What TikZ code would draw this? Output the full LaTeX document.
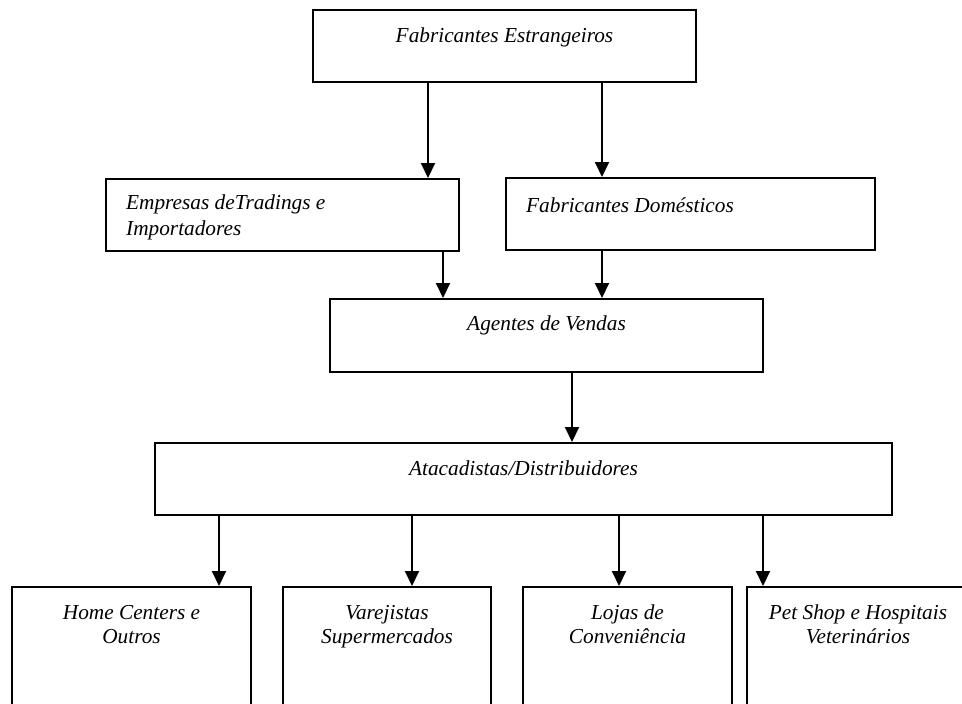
\documentclass[tikz,border=0pt]{standalone}
\usepackage{fontspec}
\setmainfont{Liberation Serif}
\usepackage{tikz}
\usetikzlibrary{arrows.meta}
\tikzset{>={Triangle[width=14pt,length=15pt]}}
\tikzset{
  caixa/.style={draw, line width=2pt, inner sep=0pt},
  rotulo/.style={font=\itshape\fontsize{21.3}{24}\selectfont, inner sep=0pt, align=center},
  seta/.style={line width=2pt, ->}
}

\begin{document}
\begin{tikzpicture}[x=1pt,y=-1pt]
    \useasboundingbox (0,0) rectangle (962,704);
    \clip (0,0) rectangle (962,704);

    % fornecedores
    \node[caixa, minimum width=383, minimum height=72,
      label={[rotulo, anchor=north, yshift=-19pt]north:Fabricantes Estrangeiros}] (fe) at (504.5,46) {};
    \node[caixa, minimum width=353, minimum height=72,
      label={[rotulo, font=\itshape\fontsize{21.3}{25.5}\selectfont, align=left, anchor=north west, xshift=21pt, yshift=-17pt]north west:Empresas deTradings e\\Importadores}] (tr) at (282.5,215) {};
    \node[caixa, minimum width=369, minimum height=72,
      label={[rotulo, anchor=north west, xshift=21pt, yshift=-20pt]north west:Fabricantes Domésticos}] (fd) at (690.5,214) {};

    % intermediarios
    \node[caixa, minimum width=433, minimum height=73,
      label={[rotulo, anchor=north, yshift=-18pt]north:Agentes de Vendas}] (av) at (546.5,335.5) {};
    \node[caixa, minimum width=737, minimum height=72,
      label={[rotulo, anchor=north, yshift=-19pt]north:Atacadistas/Distribuidores}] (ad) at (523.5,479) {};

    % varejo
    \node[caixa, minimum width=239, minimum height=140,
      label={[rotulo, anchor=north, yshift=-19pt]north:Home Centers e\\Outros}] (hc) at (131.5,657) {};
    \node[caixa, minimum width=208, minimum height=140,
      label={[rotulo, anchor=north, yshift=-19pt]north:Varejistas\\Supermercados}] (vs) at (387,657) {};
    \node[caixa, minimum width=209, minimum height=140,
      label={[rotulo, anchor=north, yshift=-19pt]north:Lojas de\\Conveniência}] (lc) at (627.5,657) {};
    \node[caixa, minimum width=222, minimum height=140,
      label={[rotulo, anchor=north, yshift=-19pt]north:Pet Shop e Hospitais\\Veterinários}] (ps) at (858,657) {};

    % setas
    \coordinate (x1) at (428,0);
    \coordinate (x2) at (602,0);
    \coordinate (x3) at (443,0);
    \coordinate (x4) at (572,0);
    \draw[seta] (fe.south -| x1) -- (tr.north -| x1);
    \draw[seta] (fe.south -| x2) -- (fd.north -| x2);
    \draw[seta] (tr.south -| x3) -- (av.north -| x3);
    \draw[seta] (fd.south -| x2) -- (av.north -| x2);
    \draw[seta] (av.south -| x4) -- (ad.north -| x4);
    \foreach \alvo/\px in {hc/219, vs/412, lc/619, ps/763} {
      \coordinate (xb) at (\px,0);
      \draw[seta] (ad.south -| xb) -- (\alvo.north -| xb);
    }
\end{tikzpicture}
\end{document}
